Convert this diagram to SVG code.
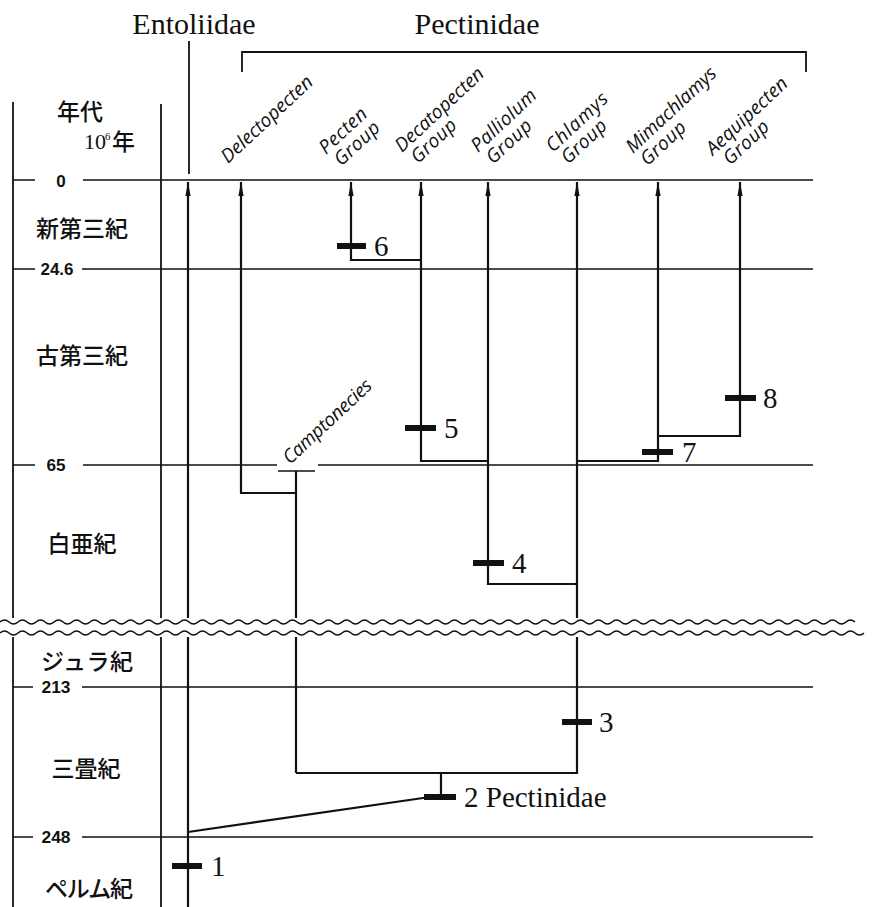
<svg xmlns="http://www.w3.org/2000/svg" width="877" height="907" viewBox="0 0 877 907">
  <style>
    .frame{stroke:#111;stroke-width:1.8;fill:none}
    .grid{stroke:#111;stroke-width:1.5;fill:none}
    .lin{stroke:#111;stroke-width:2.2;fill:none}
    .arr{marker-end:url(#arrowUp)}
    .bar{stroke:#111;stroke-width:6;fill:none}
    .wave{stroke:#111;stroke-width:1.5;fill:none}
    .num{font-family:"Liberation Serif",serif;font-size:29px;fill:#111}
    .head{font-family:"Liberation Serif",serif;font-size:30px;fill:#111}
    .ja{font-family:"Noto Sans CJK JP",sans-serif;font-size:23px;font-weight:500;fill:#111}
    .tick{font-family:"Liberation Sans",sans-serif;font-size:17px;font-weight:bold;fill:#111}
    .it{font-family:"Open Sans",sans-serif;font-style:italic;font-size:19px;fill:#111}
  </style>
  <defs>
    <marker id="arrowUp" markerUnits="userSpaceOnUse" viewBox="-15 -4 16 8" markerWidth="16" markerHeight="8" refX="0" refY="0" orient="auto" overflow="visible">
      <path d="M0,0 L-14,-2.6 L-14,2.6 Z" fill="#111"/>
    </marker>
  </defs>

  <rect width="877" height="907" fill="#fff"/>

  <!-- family headings -->
  <g id="heading-entoliidae">
    <text class="head" x="194" y="34" text-anchor="middle">Entoliidae</text>
    <line class="frame" x1="189" y1="41" x2="189" y2="174"/>
  </g>
  <g id="heading-pectinidae">
    <text class="head" x="477" y="34" text-anchor="middle">Pectinidae</text>
    <path class="frame" d="M242 72 V52 H806 V72"/>
  </g>

  <!-- time scale frame -->
  <g id="time-axis">
    <line class="frame" x1="13" y1="102" x2="13" y2="907"/>
    <line class="frame" x1="161" y1="104" x2="161" y2="907"/>
    <text class="ja" x="57" y="120" font-size="24" font-weight="bold">年代</text>
    <text x="84" y="149" font-family="Liberation Serif,serif" font-size="22" fill="#111">10</text>
    <text x="105" y="140" font-family="Liberation Serif,serif" font-size="11" fill="#111">6</text>
    <text class="ja" x="112" y="150" font-size="24" font-weight="bold">年</text>

    <!-- period boundaries -->
    <path class="grid" d="M13 180 H35 M83 180 H813"/>
    <text class="tick" x="61" y="187" text-anchor="middle" font-size="19">0</text>
    <path class="grid" d="M13 269 H35 M82 269 H813"/>
    <text class="tick" x="57" y="275" text-anchor="middle" textLength="33" lengthAdjust="spacingAndGlyphs">24.6</text>
    <path class="grid" d="M13 465 H35 M83 465 H277 M318 465 H813"/>
    <text class="tick" x="56" y="471" text-anchor="middle" textLength="19" lengthAdjust="spacingAndGlyphs">65</text>
    <path class="grid" d="M13 687 H33 M82 687 H813"/>
    <text class="tick" x="56" y="693" text-anchor="middle" textLength="29" lengthAdjust="spacingAndGlyphs">213</text>
    <path class="grid" d="M13 837 H33 M82 837 H813"/>
    <text class="tick" x="56" y="843" text-anchor="middle" textLength="29" lengthAdjust="spacingAndGlyphs">248</text>

    <!-- period names -->
    <text class="ja" x="82" y="237" text-anchor="middle">新第三紀</text>
    <text class="ja" x="82" y="364" text-anchor="middle">古第三紀</text>
    <text class="ja" x="82" y="552" text-anchor="middle">白亜紀</text>
    <text class="ja" x="87" y="670" text-anchor="middle" textLength="92">ジュラ紀</text>
    <text class="ja" x="86" y="777" text-anchor="middle">三畳紀</text>
    <text class="ja" x="89" y="897" text-anchor="middle" textLength="88">ペルム紀</text>
  </g>

  <!-- lineage connectors -->
  <g id="connectors">
    <path class="lin arr" d="M188 907 V182"/>
    <path class="lin" d="M188 832 L430 797"/>
    <path class="lin" d="M441 797 V773"/>
    <path class="lin arr" d="M296 773 H577 V182"/>
    <path class="lin" d="M296 773 V471"/>
    <path class="grid" d="M278 471 H315"/>
    <path class="lin arr" d="M296 493 H241 V182"/>
    <path class="lin arr" d="M577 584 H488 V182"/>
    <path class="lin arr" d="M488 461 H421 V182"/>
    <path class="lin arr" d="M421 260 H351 V182"/>
    <path class="lin arr" d="M577 461 H658 V182"/>
    <path class="lin arr" d="M658 436 H740 V182"/>
  </g>

  <!-- character-change marks -->
  <g id="mark-1"><line class="bar" x1="172" y1="866" x2="202" y2="866"/><text class="num" x="211" y="876">1</text></g>
  <g id="mark-2"><line class="bar" x1="424" y1="797" x2="456" y2="797"/><text class="num" x="464" y="807">2 Pectinidae</text></g>
  <g id="mark-3"><line class="bar" x1="562" y1="722" x2="592" y2="722"/><text class="num" x="599" y="732">3</text></g>
  <g id="mark-4"><line class="bar" x1="473" y1="563" x2="504" y2="563"/><text class="num" x="512" y="573">4</text></g>
  <g id="mark-5"><line class="bar" x1="405" y1="428" x2="436" y2="428"/><text class="num" x="444" y="438">5</text></g>
  <g id="mark-6"><line class="bar" x1="337" y1="246" x2="366" y2="246"/><text class="num" x="374" y="256">6</text></g>
  <g id="mark-7"><line class="bar" x1="642" y1="452" x2="673" y2="452"/><text class="num" x="682" y="462">7</text></g>
  <g id="mark-8"><line class="bar" x1="725" y1="398" x2="756" y2="398"/><text class="num" x="763" y="408">8</text></g>

  <!-- taxon labels -->
  <g id="taxon-delectopecten" transform="translate(228 164) rotate(-43)">
    <text class="it" textLength="118">Delectopecten</text>
  </g>
  <g id="taxon-camptonecies" transform="translate(290 465) rotate(-43)">
    <text class="it" font-size="17" textLength="114">Camptonecies</text>
  </g>
  <g id="taxon-pecten" transform="translate(326 155) rotate(-43)">
    <text class="it" textLength="58">Pecten</text>
    <text class="it" x="3" y="19" textLength="55">Group</text>
  </g>
  <g id="taxon-decatopecten" transform="translate(402 153) rotate(-43)">
    <text class="it" textLength="114">Decatopecten</text>
    <text class="it" x="4" y="19" textLength="55">Group</text>
  </g>
  <g id="taxon-palliolum" transform="translate(478 153) rotate(-43)">
    <text class="it" textLength="82">Palliolum</text>
    <text class="it" x="3" y="19" textLength="55">Group</text>
  </g>
  <g id="taxon-chlamys" transform="translate(553 153) rotate(-43)">
    <text class="it" textLength="77">Chlamys</text>
    <text class="it" x="3" y="19" textLength="55">Group</text>
  </g>
  <g id="taxon-mimachlamys" transform="translate(633 154) rotate(-43)">
    <text class="it" textLength="116">Mimachlamys</text>
    <text class="it" x="2" y="19" textLength="55">Group</text>
  </g>
  <g id="taxon-aequipecten" transform="translate(713 156) rotate(-43)">
    <text class="it" textLength="104">Aequipecten</text>
    <text class="it" x="6" y="19" textLength="55">Group</text>
  </g>

  <!-- time-scale break: verticals stop at the double wavy line -->
  <g id="scale-break">
    <rect x="0" y="618" width="877" height="19" fill="#fff"/>
    <path class="wave" d="M0 622 q4.5 -4 9 0 t9 0 t9 0 t9 0 t9 0 t9 0 t9 0 t9 0 t9 0 t9 0 t9 0 t9 0 t9 0 t9 0 t9 0 t9 0 t9 0 t9 0 t9 0 t9 0 t9 0 t9 0 t9 0 t9 0 t9 0 t9 0 t9 0 t9 0 t9 0 t9 0 t9 0 t9 0 t9 0 t9 0 t9 0 t9 0 t9 0 t9 0 t9 0 t9 0 t9 0 t9 0 t9 0 t9 0 t9 0 t9 0 t9 0 t9 0 t9 0 t9 0 t9 0 t9 0 t9 0 t9 0 t9 0 t9 0 t9 0 t9 0 t9 0 t9 0 t9 0 t9 0 t9 0 t9 0 t9 0 t9 0 t9 0 t9 0 t9 0 t9 0 t9 0 t9 0 t9 0 t9 0 t9 0 t9 0 t9 0 t9 0 t9 0 t9 0 t9 0 t9 0 t9 0 t9 0 t9 0 t9 0 t9 0 t9 0 t9 0 t9 0 t9 0 t9 0 t9 0 t9 0 t9 0"/>
    <path class="wave" d="M0 633 q4.5 -4 9 0 t9 0 t9 0 t9 0 t9 0 t9 0 t9 0 t9 0 t9 0 t9 0 t9 0 t9 0 t9 0 t9 0 t9 0 t9 0 t9 0 t9 0 t9 0 t9 0 t9 0 t9 0 t9 0 t9 0 t9 0 t9 0 t9 0 t9 0 t9 0 t9 0 t9 0 t9 0 t9 0 t9 0 t9 0 t9 0 t9 0 t9 0 t9 0 t9 0 t9 0 t9 0 t9 0 t9 0 t9 0 t9 0 t9 0 t9 0 t9 0 t9 0 t9 0 t9 0 t9 0 t9 0 t9 0 t9 0 t9 0 t9 0 t9 0 t9 0 t9 0 t9 0 t9 0 t9 0 t9 0 t9 0 t9 0 t9 0 t9 0 t9 0 t9 0 t9 0 t9 0 t9 0 t9 0 t9 0 t9 0 t9 0 t9 0 t9 0 t9 0 t9 0 t9 0 t9 0 t9 0 t9 0 t9 0 t9 0 t9 0 t9 0 t9 0 t9 0 t9 0 t9 0 t9 0 t9 0"/>
  </g>
</svg>
